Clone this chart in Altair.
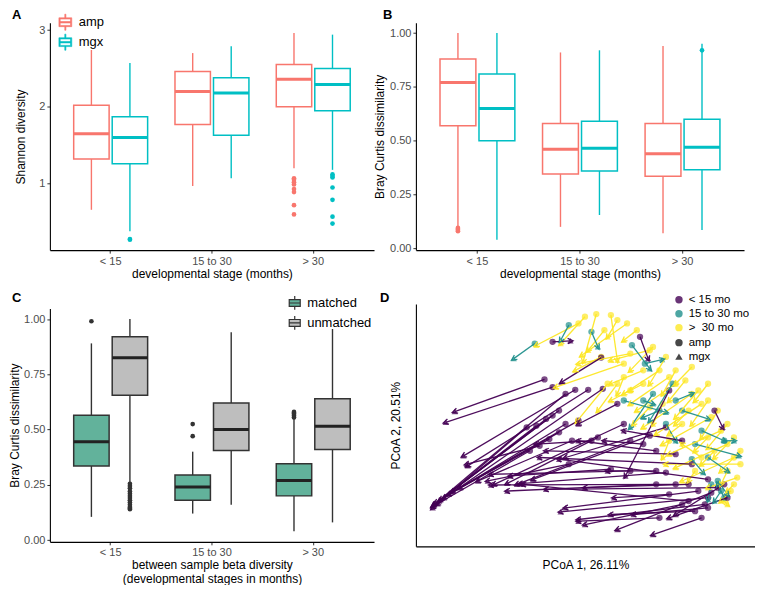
import altair as alt
import pandas as pd
import numpy as np

STAGES = ["< 15", "15 to 30", "> 30"]
FONT = "Liberation Sans"
BOX_SYMBOL = "M-0.8,-0.5H0.8V0.5H-0.8Z M-0.8,0H0.8 M0,-0.5V-1 M0,0.5V1"
BOX_RING = ("M-0.8,-0.55H0.8V0.55H-0.8Z M-0.64,-0.4V0.4H0.64V-0.4Z "
            "M-0.64,-0.09H0.64V0.09H-0.64Z M-0.07,-1H0.07V-0.55H-0.07Z "
            "M-0.07,0.55H0.07V1H-0.07Z")

# ---------------- Panel A: Shannon diversity ----------------
A_TYPES = ["amp", "mgx"]
A_COLORS = ["#F8766D", "#00BFC4"]
A_STAGE = ["< 15", "< 15", "15 to 30", "15 to 30", "> 30", "> 30"]
A_TYPE = ["amp", "mgx", "amp", "mgx", "amp", "mgx"]
A_LOW = [0.66, 0.38, 0.97, 1.07, 1.20, 1.18]
A_Q1 = [1.32, 1.26, 1.77, 1.63, 2.00, 1.95]
A_MED = [1.65, 1.60, 2.20, 2.18, 2.36, 2.29]
A_Q3 = [2.02, 1.87, 2.46, 2.38, 2.55, 2.50]
A_HIGH = [2.74, 2.57, 2.70, 2.79, 2.96, 2.94]
A_OUT_STAGE = ["< 15"] * 2 + ["> 30"] * 8 + ["> 30"] * 7
A_OUT_TYPE = ["mgx"] * 2 + ["amp"] * 8 + ["mgx"] * 7
A_OUT_VAL = [0.27, 0.28, 1.07, 1.05, 1.02, 0.99, 0.93, 0.89, 0.72, 0.60,
             1.12, 1.10, 1.08, 0.95, 0.79, 0.57, 0.48]

# ---------------- Panel B: Bray Curtis (amp vs mgx) ----------------
B_LOW = [0.10, 0.04, 0.10, 0.155, 0.07, 0.085]
B_Q1 = [0.57, 0.50, 0.345, 0.36, 0.335, 0.365]
B_MED = [0.77, 0.65, 0.46, 0.465, 0.44, 0.47]
B_Q3 = [0.88, 0.81, 0.58, 0.59, 0.58, 0.60]
B_HIGH = [1.00, 1.00, 0.91, 0.92, 0.94, 0.95]
B_OUT_STAGE = ["< 15"] * 4 + ["> 30"]
B_OUT_TYPE = ["amp"] * 4 + ["mgx"]
B_OUT_VAL = [0.08, 0.085, 0.09, 0.095, 0.92]

# ---------------- Panel C: matched vs unmatched ----------------
C_TYPES = ["matched", "unmatched"]
C_COLORS = ["#62B29B", "#BEBEBE"]
C_STAGE = ["< 15", "< 15", "15 to 30", "15 to 30", "> 30", "> 30"]
C_TYPE = ["matched", "unmatched"] * 3
C_LOW = [0.105, 0.26, 0.12, 0.16, 0.04, 0.08]
C_Q1 = [0.335, 0.655, 0.18, 0.405, 0.20, 0.41]
C_MED = [0.445, 0.825, 0.24, 0.50, 0.27, 0.515]
C_Q3 = [0.565, 0.92, 0.295, 0.62, 0.345, 0.64]
C_HIGH = [0.89, 1.00, 0.40, 0.94, 0.55, 0.955]
C_OUT_STAGE = ["< 15"] + ["< 15"] * 13 + ["15 to 30"] * 2 + ["> 30"] * 5
C_OUT_TYPE = ["matched"] + ["unmatched"] * 13 + ["matched"] * 2 + ["matched"] * 5
C_OUT_VAL = [0.99,
             0.14, 0.145, 0.15, 0.16, 0.17, 0.18, 0.19, 0.20, 0.21, 0.22, 0.235, 0.245, 0.255,
             0.47, 0.525,
             0.555, 0.563, 0.57, 0.575, 0.58]

# ---------------- Panel D: PCoA arrows amp -> mgx ----------------
D_STAGES = ["< 15 mo", "15 to 30 mo", ">\u00a0 30 mo"]
D_COLORS = ["#440154", "#21908C", "#FDE725"]

P_AX = [-0.125, -0.100, 0.050, -0.030, 0.010, 0.055, -0.060, -0.100, -0.120, -0.080,
        -0.060, -0.080, -0.020, -0.110, -0.140, -0.170, -0.150, 0.100, 0.120, 0.040,
        0.140, 0.200, 0.250, 0.260, 0.380, 0.370, 0.390, 0.360, 0.340, 0.320,
        0.280, 0.250, 0.430, 0.380, 0.330, 0.280, 0.220, 0.180, 0.440, 0.400,
        -0.100, 0.170, 0.220, 0.320, 0.380, 0.410, 0.300, 0.220, 0.260, 0.230,
        0.140, 0.080, -0.040, 0.020, -0.180, -0.050, 0.350, 0.300]
P_AY = [0.133, 0.110, 0.198, 0.102, 0.102, 0.105, 0.090, 0.025, 0.015, 0.040,
        0.000, -0.025, 0.010, -0.045, -0.065, -0.080, -0.005, 0.060, 0.000, -0.040,
        -0.050, -0.035, -0.010, 0.100, -0.220, -0.240, -0.205, -0.280, -0.260, -0.230,
        -0.180, -0.145, -0.180, -0.165, -0.120, -0.090, -0.080, -0.060, -0.220, 0.040,
        0.245, 0.260, -0.140, -0.180, -0.250, -0.190, -0.050, -0.180, -0.210, -0.280,
        -0.140, -0.135, -0.050, -0.050, -0.010, -0.120, -0.200, -0.240]
P_MX = [-0.402, -0.430, -0.072, -0.375, -0.362, -0.470, -0.465, -0.460, -0.450, -0.445,
        -0.435, -0.420, -0.410, -0.385, -0.365, -0.455, -0.468, -0.020, -0.280, -0.240,
        -0.210, -0.160, -0.060, 0.125, -0.075, -0.020, 0.100, 0.210, 0.080, -0.190,
        -0.290, -0.200, 0.280, -0.080, -0.140, -0.120, -0.020, 0.060, 0.260, 0.425,
        -0.045, 0.195, 0.070, 0.000, 0.150, -0.120, 0.120, -0.240, 0.090, -0.020,
        -0.290, -0.230, -0.330, -0.150, -0.470, -0.300, -0.060, 0.000]
P_MY = [0.037, 0.005, 0.125, -0.095, -0.125, -0.245, -0.240, -0.235, -0.230, -0.225,
        -0.220, -0.210, -0.202, -0.190, -0.120, -0.238, -0.242, 0.000, -0.180, -0.177,
        -0.180, -0.165, -0.100, -0.155, -0.262, -0.285, -0.315, -0.330, -0.270, -0.180,
        -0.182, -0.178, -0.270, -0.105, -0.100, -0.080, -0.050, -0.050, -0.280, -0.010,
        0.248, 0.195, -0.140, -0.190, -0.270, -0.195, -0.020, -0.200, -0.220, -0.290,
        -0.150, -0.155, -0.170, -0.060, -0.250, -0.170, -0.250, -0.300]

T_AX = [-0.155, -0.050, 0.020, 0.145, 0.185, 0.120, 0.210, 0.270, 0.300, 0.340,
        0.380, 0.410, 0.330, 0.390, 0.250, 0.430, 0.280, 0.360, 0.230, 0.420,
        0.180, 0.430]
T_AY = [0.240, 0.295, 0.275, 0.235, 0.180, 0.070, 0.090, 0.120, 0.040, -0.060,
        -0.100, -0.170, -0.105, -0.180, 0.000, -0.050, 0.070, -0.020, 0.040, -0.200,
        0.070, -0.220]
T_MX = [-0.220, -0.075, 0.040, 0.200, 0.238, 0.250, 0.140, 0.200, 0.380, 0.475,
        0.440, 0.440, 0.365, 0.380, 0.280, 0.460, 0.330, 0.430, 0.180, 0.400,
        0.210, 0.410]
T_MY = [0.195, 0.250, 0.230, 0.165, 0.192, 0.035, -0.010, 0.010, 0.015, -0.095,
        -0.140, -0.210, -0.145, -0.225, -0.050, -0.050, 0.090, -0.050, 0.020, -0.230,
        0.060, -0.180]

Y_AX = [0.035, 0.080, -0.020, 0.130, 0.070, 0.100, 0.140, 0.160, 0.210, 0.250,
        0.280, 0.310, 0.350, 0.380, 0.410, 0.440, 0.460, 0.480, 0.480, 0.470,
        0.450, 0.430, 0.180, 0.230, 0.260, 0.280, 0.330, 0.360, 0.390, 0.420,
        0.440, 0.460, 0.200, 0.100, 0.000, 0.060, 0.140, 0.320, 0.380, 0.300,
        0.260, 0.400, 0.440, 0.340, 0.240, 0.120, 0.180, 0.330, 0.380, 0.050,
        0.120, 0.200, 0.460, 0.360]
Y_AY = [0.328, 0.325, 0.300, 0.300, 0.120, 0.120, 0.210, 0.280, 0.230, 0.200,
        0.160, 0.130, 0.100, 0.070, 0.040, 0.000, -0.040, -0.080, -0.120, -0.160,
        -0.200, -0.230, 0.160, 0.160, 0.140, 0.120, 0.090, 0.060, 0.020, -0.020,
        -0.060, -0.100, 0.220, 0.310, 0.320, 0.280, 0.100, 0.040, -0.040, 0.000,
        -0.050, -0.080, -0.140, -0.140, 0.060, 0.140, 0.120, 0.170, 0.120, 0.200,
        0.180, 0.050, -0.180, -0.100]
Y_MX = [-0.005, 0.100, -0.150, -0.010, -0.025, 0.040, -0.020, 0.120, 0.140, 0.200,
        0.240, 0.260, 0.280, 0.330, 0.360, 0.380, 0.400, 0.420, 0.250, 0.380,
        0.420, 0.440, 0.080, 0.120, 0.140, 0.160, 0.180, 0.220, 0.240, 0.260,
        0.280, 0.300, 0.080, 0.070, -0.075, 0.010, 0.080, 0.280, 0.340, 0.260,
        0.240, 0.360, 0.420, 0.320, 0.210, 0.100, 0.140, 0.280, 0.340, -0.030,
        -0.090, 0.150, 0.440, 0.300]
Y_MY = [0.188, 0.190, 0.235, 0.205, 0.008, 0.040, 0.180, 0.250, 0.160, 0.120,
        0.090, 0.070, 0.020, 0.000, -0.040, -0.070, -0.100, -0.140, -0.120, -0.190,
        -0.230, -0.240, 0.120, 0.090, 0.060, 0.040, -0.010, -0.030, -0.060, -0.090,
        -0.130, -0.170, 0.190, 0.260, 0.240, 0.220, 0.070, 0.000, -0.080, -0.030,
        -0.100, -0.120, -0.180, -0.170, 0.000, 0.090, 0.100, 0.120, 0.070, 0.160,
        0.110, 0.000, -0.200, -0.060]

RES_CH = ["x", "y", "xOffset", "color", "fill", "stroke", "shape", "angle"]
LEG_CH = ["color", "fill", "stroke", "shape"]


def indep(ch):
    ch = ch.resolve_scale(**{c: "independent" for c in RES_CH})
    return ch.resolve_legend(**{c: "independent" for c in LEG_CH})


def letter(ch, dx, dy):
    return alt.Chart(pd.DataFrame({"k": [0]})).mark_text(
        text=ch, font=FONT, fontWeight="bold", fontSize=13, align="left",
        baseline="top", color="black"
    ).encode(x=alt.value(dx), y=alt.value(dy))


def box_panel(stage, typ, low, q1, med, q3, high, o_stage, o_type, o_val,
              types, colors, filled, ydom, yvals, yfmt, ytitle, ytp, xtitle,
              legend, let, let_dx, let_dy, width, height):
    stats = pd.DataFrame({"stage": stage, "type": typ, "low": low, "q1": q1,
                          "med": med, "q3": q3, "high": high})
    outs = pd.DataFrame({"stage": o_stage, "type": o_type, "val": o_val})
    x = alt.X("stage:N", sort=STAGES,
              scale=alt.Scale(domain=STAGES, paddingInner=0.27, paddingOuter=0.235),
              axis=alt.Axis(title=xtitle, labelAngle=0, titlePadding=2))
    xo = alt.XOffset("type:N", scale=alt.Scale(domain=types, paddingInner=0.08))
    ys = alt.Scale(domain=ydom, nice=False, zero=False)
    yax = alt.Axis(title=ytitle, values=yvals, format=yfmt, titlePadding=ytp)
    tscale = alt.Scale(domain=types, range=colors)
    base_s = alt.Chart(stats)
    if not filled:
        col = alt.Color("type:N", scale=tscale, legend=legend)
        w_lo = base_s.mark_rule(strokeWidth=1.4).encode(
            x=x, xOffset=xo, y=alt.Y("low:Q", scale=ys, axis=yax), y2="q1:Q", color=col)
        w_hi = base_s.mark_rule(strokeWidth=1.4).encode(
            x=x, xOffset=xo, y=alt.Y("q3:Q", scale=ys), y2="high:Q", color=col)
        box = base_s.mark_bar(filled=False, strokeWidth=1.5).encode(
            x=x, xOffset=xo, y=alt.Y("q1:Q", scale=ys), y2="q3:Q", color=col)
        mid = base_s.mark_bar(filled=False, strokeWidth=3).encode(
            x=x, xOffset=xo, y=alt.Y("med:Q", scale=ys), y2="med:Q", color=col)
        pts = alt.Chart(outs).mark_circle(size=22, opacity=1).encode(
            x=x, xOffset=xo, y=alt.Y("val:Q", scale=ys),
            fill=alt.Fill("type:N", scale=tscale, legend=None))
        layers = [w_lo, w_hi, box, mid, pts]
    else:
        whisk = base_s.mark_rule(strokeWidth=1.4, color="#333333").encode(
            x=x, xOffset=xo, y=alt.Y("low:Q", scale=ys, axis=yax), y2="high:Q")
        box = base_s.mark_bar(stroke="#333333", strokeWidth=1.5).encode(
            x=x, xOffset=xo, y=alt.Y("q1:Q", scale=ys), y2="q3:Q",
            fill=alt.Fill("type:N", scale=tscale, legend=legend))
        mid = base_s.mark_bar(strokeWidth=3, stroke="#222222", fillOpacity=0).encode(
            x=x, xOffset=xo, y=alt.Y("med:Q", scale=ys), y2="med:Q")
        pts = alt.Chart(outs).mark_circle(size=22, opacity=1, color="#333333").encode(
            x=x, xOffset=xo, y=alt.Y("val:Q", scale=ys))
        layers = [whisk, box, mid, pts]
    return alt.layer(*layers, letter(let, let_dx, let_dy)).properties(
        width=width, height=height)


legA = alt.Legend(title=None, orient="none", legendX=7, legendY=-9,
                  symbolType=BOX_RING, symbolSize=260, symbolStrokeWidth=0.6,
                  labelFontSize=13, labelFont=FONT, labelColor="black",
                  rowPadding=1, labelOffset=5)
legC = alt.Legend(title=None, orient="none", legendX=238, legendY=-13,
                  symbolType=BOX_SYMBOL, symbolSize=190, symbolStrokeWidth=1.2,
                  symbolStrokeColor="#333333", labelFontSize=13, labelFont=FONT,
                  labelColor="black", rowPadding=1, labelOffset=5)

W1 = 325
H1 = 228
H2 = 234

panelA = box_panel(A_STAGE, A_TYPE, A_LOW, A_Q1, A_MED, A_Q3, A_HIGH,
                   A_OUT_STAGE, A_OUT_TYPE, A_OUT_VAL, A_TYPES, A_COLORS, False,
                   [0.135, 3.095], [1, 2, 3], "d", "Shannon diversity", 11,
                   "developmental stage (months)", legA, "A", -38, -14, W1, H1)

panelB = box_panel(A_STAGE, A_TYPE, B_LOW, B_Q1, B_MED, B_Q3, B_HIGH,
                   B_OUT_STAGE, B_OUT_TYPE, B_OUT_VAL, A_TYPES, A_COLORS, False,
                   [-0.008, 1.048], [0, 0.25, 0.5, 0.75, 1.0], ".2f",
                   "Bray Curtis dissimilarity", 3,
                   "developmental stage (months)", None, "B", -33, -14, 329, H1)

panelC = box_panel(C_STAGE, C_TYPE, C_LOW, C_Q1, C_MED, C_Q3, C_HIGH,
                   C_OUT_STAGE, C_OUT_TYPE, C_OUT_VAL, C_TYPES, C_COLORS, True,
                   [-0.008, 1.048], [0, 0.25, 0.5, 0.75, 1.0], ".2f",
                   "Bray Curtis dissimilarity", 2,
                   ["between sample beta diversity", "(developmental stages in months)"],
                   legC, "C", -38, -16, W1, H2)

# ---- Panel D data frames ----
seg = pd.concat([
    pd.DataFrame({"ax": Y_AX, "ay": Y_AY, "mx": Y_MX, "my": Y_MY, "stage": D_STAGES[2]}),
    pd.DataFrame({"ax": T_AX, "ay": T_AY, "mx": T_MX, "my": T_MY, "stage": D_STAGES[1]}),
    pd.DataFrame({"ax": P_AX, "ay": P_AY, "mx": P_MX, "my": P_MY, "stage": D_STAGES[0]}),
], ignore_index=True)
seg["ang"] = np.degrees(np.arctan2(seg["mx"] - seg["ax"], seg["my"] - seg["ay"])) % 360
pts = pd.concat([
    pd.DataFrame({"x": seg["ax"], "y": seg["ay"], "stage": seg["stage"], "type": "amp"}),
    pd.DataFrame({"x": seg["mx"], "y": seg["my"], "stage": seg["stage"], "type": "mgx"}),
], ignore_index=True)
order = {s: i for i, s in enumerate(D_STAGES[::-1])}
pts["o"] = pts["stage"].map(order)
pts = pts.sort_values("o", kind="stable")

dxs = alt.Scale(domain=[-0.522, 0.525], nice=False, zero=False)
dys = alt.Scale(domain=[-0.365, 0.358], nice=False, zero=False)
dxax = alt.Axis(title="PCoA 1, 26.11%", ticks=False, labels=False, titlePadding=13)
dyax = alt.Axis(title="PCoA 2, 20.51%", ticks=False, labels=False, titlePadding=13)
dcs = alt.Scale(domain=D_STAGES, range=D_COLORS)
legD = alt.Legend(title=None, orient="none", legendX=258, legendY=-10,
                  symbolType="circle", symbolSize=55, symbolOpacity=0.8,
                  symbolStrokeWidth=0, labelFontSize=11.5, labelFont=FONT,
                  labelColor="black", rowPadding=1, labelOffset=4)
legS = alt.Legend(title=None, orient="none", legendX=258, legendY=33,
                  symbolSize=55, symbolFillColor="#333333", symbolStrokeWidth=0,
                  symbolOpacity=0.9, labelFontSize=11.5, labelFont=FONT,
                  labelColor="black", rowPadding=1, labelOffset=4)

d_points = alt.Chart(pts).mark_point(filled=True, opacity=0.7, size=40).encode(
    x=alt.X("x:Q", scale=dxs, axis=dxax),
    y=alt.Y("y:Q", scale=dys, axis=dyax),
    color=alt.Color("stage:N", scale=dcs, legend=legD),
    shape=alt.Shape("type:N", scale=alt.Scale(domain=["amp", "mgx"],
                                              range=["circle", "triangle-up"]),
                    legend=legS),
    order=alt.Order("o:Q"))
d_lines = alt.Chart(seg).mark_rule(strokeWidth=1.3, opacity=0.95).encode(
    x=alt.X("ax:Q", scale=dxs), y=alt.Y("ay:Q", scale=dys),
    x2="mx:Q", y2="my:Q",
    color=alt.Color("stage:N", scale=dcs, legend=legD))
d_heads = alt.Chart(seg).mark_point(shape="M-1,1L0,-1L1,1", filled=False,
                                    strokeWidth=1.3, size=28, opacity=0.95).encode(
    x=alt.X("mx:Q", scale=dxs), y=alt.Y("my:Q", scale=dys),
    angle=alt.Angle("ang:Q", scale=None),
    color=alt.Color("stage:N", scale=dcs, legend=legD))
panelD = alt.layer(d_points, d_lines, d_heads, letter("D", -36, -12)).properties(
    width=340, height=H2 + 9)

row1 = indep(alt.hconcat(panelA, panelB, spacing=42, bounds="flush"))
row2 = indep(alt.hconcat(panelC, panelD, spacing=42, bounds="flush", center=True))
chart = indep(alt.vconcat(row1, row2, spacing=13)).properties(
    padding=0
).configure_view(
    stroke=None
).configure_axis(
    domainColor="black", domainWidth=1.1, tickColor="#333333", tickSize=3,
    tickWidth=1, labelColor="#4D4D4D", labelFont=FONT, labelFontSize=11,
    labelPadding=2, titleFont=FONT, titleFontSize=12, titleFontWeight="normal",
    titleColor="black", grid=False, titleLineHeight=13.5
).configure_legend(labelFont=FONT)

chart.save("out.html", embed_options={"renderer": "svg", "actions": False})
